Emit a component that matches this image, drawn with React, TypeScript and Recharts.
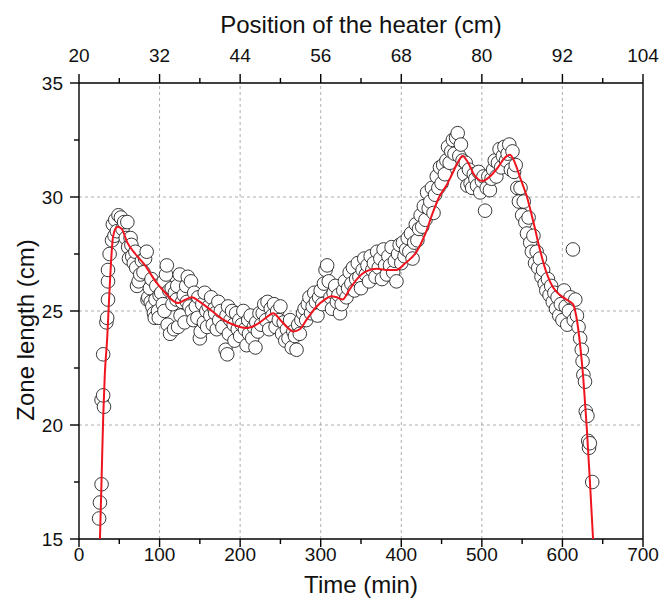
import React from "react";
import {
  ComposedChart,
  Scatter,
  Line,
  XAxis,
  YAxis,
  ReferenceLine,
} from "recharts";

// Measured zone length (time in min, zone length in cm)
const measured: [number, number][] = [
  [25, 15.9], [26, 16.6], [28, 17.4], [28, 21.1], [31, 20.8], [30, 21.3], [30, 23.1],
  [34, 24.5], [35, 24.7], [36, 25.5], [36, 26.3], [36, 26.8], [38, 27.5], [41, 28.1],
  [42, 28.8], [44, 28.3], [45, 29.0], [47, 28.5], [49, 29.2], [52, 29.1], [54, 28.6],
  [56, 28.9], [58, 28.2], [60, 28.9], [61, 27.8], [62, 27.3], [64, 28.2], [65, 27.9],
  [66, 27.4], [68, 27.1], [70, 27.6], [71, 26.9], [72, 26.1], [74, 26.3], [76, 26.6],
  [78, 27.2], [80, 26.7], [82, 27.3], [84, 27.6], [85, 25.5], [86, 25.6], [88, 26.0],
  [89, 25.4], [90, 26.4], [91, 25.2], [93, 24.9], [94, 24.7], [95, 25.5], [96, 26.1],
  [98, 25.0], [99, 24.7], [100, 25.7], [102, 25.8], [104, 25.3], [105, 26.3], [106, 25.0],
  [108, 26.6], [109, 27.0], [110, 24.4], [112, 25.9], [113, 24.0], [115, 26.0], [116, 25.3],
  [118, 24.2], [119, 25.8], [121, 25.5], [122, 26.1], [123, 24.3], [125, 26.6], [126, 24.8],
  [128, 25.4], [130, 25.7], [131, 24.5], [133, 26.1], [134, 25.4], [135, 26.5], [137, 25.2],
  [139, 26.3], [140, 25.0], [142, 24.6], [143, 25.8], [145, 25.2], [147, 24.7], [148, 25.6],
  [150, 23.8], [151, 24.1], [153, 25.3], [155, 24.5], [156, 25.8], [158, 25.0], [159, 24.3],
  [161, 25.2], [163, 24.8], [164, 25.6], [166, 24.4], [168, 25.1], [169, 24.9], [171, 24.2],
  [173, 25.4], [174, 24.6], [176, 25.0], [178, 24.3], [182, 23.3], [184, 23.1], [183, 24.8],
  [185, 25.2], [186, 24.0], [188, 24.6], [190, 25.0], [192, 24.4], [193, 23.7], [195, 24.9],
  [197, 24.2], [199, 24.6], [200, 23.9], [202, 24.4], [204, 25.0], [206, 24.2], [208, 23.5],
  [210, 24.6], [211, 24.0], [213, 24.8], [215, 23.8], [217, 24.3], [219, 23.4], [220, 24.5],
  [222, 24.1], [224, 24.9], [226, 24.4], [228, 24.9], [230, 25.3], [232, 24.6], [234, 25.4],
  [236, 24.2], [238, 25.1], [240, 24.8], [242, 25.3], [244, 24.3], [246, 25.0], [248, 24.6],
  [250, 25.2], [252, 24.0], [254, 24.5], [256, 23.7], [258, 24.2], [260, 23.8], [262, 24.6],
  [264, 23.4], [266, 24.1], [268, 23.9], [270, 23.3], [272, 24.4], [274, 24.0], [276, 24.6],
  [278, 24.9], [280, 25.1], [282, 24.6], [284, 25.3], [286, 25.6], [288, 24.9], [290, 25.2],
  [292, 25.8], [294, 25.4], [296, 24.8], [298, 25.6], [300, 25.9], [302, 25.3], [304, 26.2],
  [306, 26.8], [308, 27.0], [310, 26.3], [312, 25.6], [314, 25.1], [316, 25.8], [318, 26.1],
  [320, 25.4], [322, 25.7], [324, 24.9], [326, 25.3], [328, 25.9], [330, 26.3], [332, 25.6],
  [334, 26.0], [336, 26.7], [338, 26.2], [340, 26.9], [342, 25.9], [344, 26.4], [346, 27.1],
  [348, 26.5], [350, 26.0], [352, 26.8], [354, 27.3], [356, 26.6], [358, 27.0], [360, 26.3],
  [362, 27.4], [364, 26.8], [366, 27.1], [368, 26.5], [370, 27.6], [372, 26.9], [374, 27.3],
  [376, 26.4], [378, 27.7], [380, 27.0], [382, 26.6], [384, 27.4], [386, 27.0], [388, 27.8],
  [390, 26.7], [392, 27.2], [394, 26.3], [396, 27.5], [398, 27.9], [400, 27.1], [402, 28.0],
  [404, 27.4], [406, 27.7], [408, 28.2], [410, 27.6], [412, 28.4], [414, 27.3], [416, 28.0],
  [418, 28.8], [420, 28.1], [422, 28.6], [424, 29.2], [426, 28.7], [428, 29.6], [430, 29.0],
  [432, 30.2], [434, 29.5], [436, 29.8], [438, 30.4], [440, 29.3], [442, 30.1], [444, 30.9],
  [446, 30.4], [448, 31.3], [450, 30.6], [452, 31.4], [454, 31.0], [456, 31.6], [458, 32.2],
  [460, 31.5], [462, 32.0], [464, 32.5], [466, 31.9], [468, 32.6], [470, 32.8], [472, 31.8],
  [474, 32.3], [476, 31.6], [478, 31.0], [480, 31.5], [482, 30.5], [484, 31.2], [486, 30.6],
  [488, 30.4], [490, 31.0], [492, 30.8], [494, 30.5], [496, 31.1], [498, 30.2], [500, 30.7],
  [502, 30.9], [504, 29.4], [506, 30.4], [508, 30.9], [510, 30.3], [512, 30.8], [514, 31.2],
  [516, 31.6], [518, 30.9], [520, 31.5], [522, 32.1], [524, 31.3], [526, 31.8], [528, 32.2],
  [530, 31.6], [532, 31.9], [534, 32.3], [536, 31.2], [538, 32.0], [540, 31.1], [542, 31.4],
  [544, 30.4], [546, 29.8], [548, 30.4], [550, 29.2], [552, 29.8], [554, 28.9], [556, 28.4],
  [558, 29.1], [560, 28.0], [562, 27.6], [564, 28.3], [566, 27.1], [568, 27.6], [570, 26.9],
  [572, 27.3], [574, 26.5], [576, 26.8], [578, 26.2], [580, 25.9], [582, 26.4], [584, 25.7],
  [586, 26.1], [588, 25.4], [590, 25.8], [592, 25.1], [594, 25.6], [596, 24.8], [598, 25.3],
  [600, 24.6], [602, 25.9], [604, 25.2], [606, 24.4], [608, 25.0], [610, 25.6], [613, 27.7],
  [614, 24.6], [616, 25.5], [618, 24.8], [620, 24.3], [622, 23.8], [624, 23.3], [625, 22.8],
  [626, 22.2], [628, 21.9], [629, 20.6], [631, 20.4], [632, 19.3], [633, 19.0], [634, 19.2],
  [637, 17.5],
];

// Fitted curve (time in min, zone length in cm)
const fitted: [number, number][] = [
  [26, 15], [28, 17.6], [30, 20.3], [32, 22.2], [35, 23.8], [38, 26.0], [42, 28.2],
  [45, 28.6], [48, 28.7], [53, 28.6], [60, 28.0], [70, 27.5], [82, 27.0], [95, 26.3],
  [107, 25.8], [115, 25.5], [123, 25.35], [132, 25.5], [140, 25.6], [150, 25.4],
  [165, 25.0], [180, 24.6], [195, 24.35], [208, 24.25], [220, 24.4], [232, 24.7],
  [241, 24.9], [250, 24.6], [258, 24.3], [266, 24.1], [274, 24.2], [284, 24.7],
  [295, 25.2], [305, 25.5], [313, 25.65], [320, 25.6], [327, 25.5], [335, 25.9],
  [345, 26.4], [357, 26.75], [370, 26.85], [382, 26.8], [394, 26.8], [405, 27.1],
  [419, 27.6], [430, 28.4], [439, 29.3], [447, 30.0], [456, 30.5], [463, 31.0],
  [470, 31.5], [476, 31.8], [483, 31.5], [490, 31.0], [501, 30.7], [510, 30.9],
  [520, 31.3], [528, 31.7], [535, 31.85], [541, 31.5], [548, 30.8], [556, 30.0],
  [564, 28.9], [572, 27.7], [580, 26.7], [588, 26.05], [597, 25.7], [605, 25.5],
  [613, 25.3], [617, 24.8], [622, 23.5], [626, 22.0], [630, 20.0], [634, 17.6], [638, 15.0],
];

// Heater position (cm) = 20 cm start + 0.12 cm per minute of time
const HEATER_START = 20;
const HEATER_SPEED = 0.12;

const timeTicks = [0, 50, 100, 150, 200, 250, 300, 350, 400, 450, 500, 550, 600, 650, 700];
const timeGrid = [100, 200, 300, 400, 500, 600];
const heaterTicks = [20, 26, 32, 38, 44, 50, 56, 62, 68, 74, 80, 86, 92, 98, 104];
const zoneTicks = [15, 17.5, 20, 22.5, 25, 27.5, 30, 32.5, 35];
const zoneGrid = [20, 25, 30];

const measuredData = measured.map(([t, v]) => ({ t, v }));
const fittedData = fitted.map(([t, v]) => ({ t, p: HEATER_START + HEATER_SPEED * t, v }));

const FONT = "'Liberation Sans', Arial, sans-serif";
const TICK_FS = 19;
const TITLE_FS = 24;
const AXIS_W = 1.4;

const BottomTick = (props: any) => {
  const { x, y, payload } = props;
  const major = payload.value % 100 === 0;
  return (
    <g>
      <line x1={x} x2={x} y1={y} y2={y + (major ? 8 : 5)} stroke="#000" strokeWidth={AXIS_W} />
      {major && (
        <text x={x} y={y + 22} textAnchor="middle" fontSize={TICK_FS} fontFamily={FONT} fill="#111">
          {payload.value}
        </text>
      )}
    </g>
  );
};

const TopTick = (props: any) => {
  const { x, y, payload } = props;
  const major = (payload.value - 20) % 12 === 0;
  return (
    <g>
      <line x1={x} x2={x} y1={y} y2={y - (major ? 9 : 5)} stroke="#000" strokeWidth={AXIS_W} />
      {major && (
        <text x={x} y={y - 21} textAnchor="middle" fontSize={TICK_FS} fontFamily={FONT} fill="#111">
          {payload.value}
        </text>
      )}
    </g>
  );
};

const LeftTick = (props: any) => {
  const { x, y, payload } = props;
  const major = payload.value % 5 === 0;
  return (
    <g>
      <line x1={x} x2={x - (major ? 9 : 5)} y1={y} y2={y} stroke="#000" strokeWidth={AXIS_W} />
      {major && (
        <text x={x - 16} y={y + 7} textAnchor="end" fontSize={TICK_FS} fontFamily={FONT} fill="#111">
          {payload.value}
        </text>
      )}
    </g>
  );
};

const BottomTitle = (props: any) => {
  const vb = props.viewBox || {};
  return (
    <text x={vb.x + vb.width / 2} y={vb.y + 54} textAnchor="middle" fontSize={TITLE_FS} fontFamily={FONT} fill="#111">
      Time (min)
    </text>
  );
};

const TopTitle = (props: any) => {
  const vb = props.viewBox || {};
  return (
    <text x={vb.x + vb.width / 2} y={vb.y + vb.height - 50} textAnchor="middle" fontSize={TITLE_FS} fontFamily={FONT} fill="#111">
      Position of the heater (cm)
    </text>
  );
};

const LeftTitle = (props: any) => {
  const vb = props.viewBox || {};
  const cx = vb.x + 25;
  const cy = vb.y + vb.height / 2 + 19;
  return (
    <text
      x={cx}
      y={cy}
      transform={`rotate(-90 ${cx} ${cy})`}
      textAnchor="middle"
      dominantBaseline="central"
      fontSize={TITLE_FS}
      fontFamily={FONT}
      fill="#111"
    >
      Zone length (cm)
    </text>
  );
};

const Dot = (props: any) => {
  const { cx, cy } = props;
  if (cx == null || cy == null) return null;
  return <circle cx={cx} cy={cy} r={6.8} fill="#fff" stroke="#222" strokeWidth={0.9} />;
};

export default function App() {
  return (
    <div style={{ position: "absolute", left: 0, top: 0, width: 662, height: 610, background: "#fff" }}>
      <ComposedChart
        width={662}
        height={610}
        margin={{ top: 0, right: 19, bottom: 0, left: 0 }}
        style={{ fontFamily: FONT }}
      >
        <XAxis
          xAxisId="time"
          dataKey="t"
          type="number"
          domain={[0, 700]}
          ticks={timeTicks}
          interval={0}
          allowDataOverflow
          height={71}
          tickSize={0}
          tickMargin={0}
          tickLine={false}
          axisLine={{ stroke: "#000", strokeWidth: AXIS_W }}
          tick={<BottomTick />}
          label={<BottomTitle />}
        />
        <XAxis
          xAxisId="heater"
          dataKey="p"
          orientation="top"
          type="number"
          domain={[20, 104]}
          ticks={heaterTicks}
          interval={0}
          allowDataOverflow
          height={83}
          tickSize={0}
          tickMargin={0}
          tickLine={false}
          axisLine={{ stroke: "#000", strokeWidth: AXIS_W }}
          tick={<TopTick />}
          label={<TopTitle />}
        />
        <YAxis
          yAxisId="zone"
          type="number"
          domain={[15, 35]}
          ticks={zoneTicks}
          interval={0}
          allowDataOverflow
          width={79}
          tickSize={0}
          tickMargin={0}
          tickLine={false}
          axisLine={{ stroke: "#000", strokeWidth: AXIS_W }}
          tick={<LeftTick />}
          label={<LeftTitle />}
        />
        {timeGrid.map((g) => (
          <ReferenceLine key={"vx" + g} x={g} xAxisId="time" yAxisId="zone" stroke="#9a9a9a" strokeWidth={0.8} strokeDasharray="3 3" />
        ))}
        {zoneGrid.map((g) => (
          <ReferenceLine key={"hy" + g} y={g} xAxisId="time" yAxisId="zone" stroke="#9a9a9a" strokeWidth={0.8} strokeDasharray="3 3" />
        ))}
        <ReferenceLine x={700} xAxisId="time" yAxisId="zone" stroke="#000" strokeWidth={AXIS_W} />
        <Scatter
          xAxisId="time"
          yAxisId="zone"
          data={measuredData}
          dataKey="v"
          shape={<Dot />}
          zIndex={500}
          isAnimationActive={false}
        />
        <Line
          xAxisId="heater"
          yAxisId="zone"
          data={fittedData}
          dataKey="v"
          type="monotone"
          stroke="#f0141e"
          strokeWidth={2}
          dot={false}
          activeDot={false}
          zIndex={900}
          isAnimationActive={false}
        />
      </ComposedChart>
    </div>
  );
}
